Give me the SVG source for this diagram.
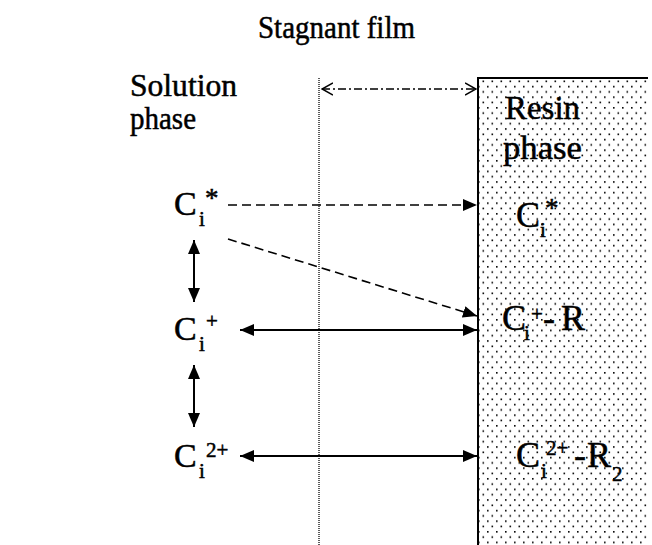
<svg xmlns="http://www.w3.org/2000/svg" width="652" height="545" viewBox="0 0 652 545" font-family="'Liberation Serif', 'DejaVu Serif', 'Times New Roman', serif">
<style>
text{font-family:'Liberation Serif','DejaVu Serif','Times New Roman',serif;fill:#000;stroke:#000;stroke-width:0.5}
.lb{font-size:31px}
.big{font-size:34px}
.rb{font-size:36px}
.sm{font-size:21px}
.solid{stroke:#000;stroke-width:2;fill:none}
.dash{stroke:#000;stroke-width:1.6;fill:none;stroke-dasharray:9 5}
</style>
<defs>
<pattern id="dots" patternUnits="userSpaceOnUse" width="9" height="10.6">
<rect width="9" height="10.6" fill="#fff"/>
<rect x="1" y="1" width="1.6" height="1.6" fill="#000"/>
<rect x="5.5" y="6.3" width="1.6" height="1.6" fill="#000"/>
</pattern>
<marker id="fh" markerUnits="userSpaceOnUse" viewBox="0 0 14 12" refX="14" refY="6" markerWidth="14" markerHeight="12" orient="auto-start-reverse">
<path d="M0,0 L14,6 L0,12 Z" fill="#000"/>
</marker>
<marker id="oh" markerUnits="userSpaceOnUse" viewBox="0 0 12 14" refX="11" refY="7" markerWidth="12" markerHeight="14" orient="auto-start-reverse">
<path d="M0,1 L11,7 L0,13" fill="none" stroke="#000" stroke-width="1.5"/>
</marker>
</defs>
<rect width="652" height="545" fill="#fff"/>
<g id="resin">
<rect x="478" y="78" width="170" height="470" fill="url(#dots)"/>
<path d="M478,545 L478,78 L648,78" class="solid"/>
</g>
<g id="film-boundary">
<line x1="319" y1="78" x2="319" y2="545" stroke="#333" stroke-width="1.6" stroke-dasharray="1 1"/>
</g>
<g id="connectors">
<line x1="322" y1="89" x2="476" y2="89" stroke="#000" stroke-width="1.4" stroke-dasharray="8 3 2 3" marker-start="url(#oh)" marker-end="url(#oh)"/>
<line x1="228" y1="205" x2="477" y2="205" class="dash" marker-end="url(#fh)"/>
<line x1="228" y1="239" x2="477" y2="316" class="dash" marker-end="url(#fh)"/>
<line x1="240" y1="330" x2="477" y2="330" class="solid" marker-start="url(#fh)" marker-end="url(#fh)"/>
<line x1="240" y1="456" x2="477" y2="456" class="solid" marker-start="url(#fh)" marker-end="url(#fh)"/>
<line x1="194" y1="240" x2="194" y2="302" class="solid" marker-start="url(#fh)" marker-end="url(#fh)"/>
<line x1="194" y1="365" x2="194" y2="427" class="solid" marker-start="url(#fh)" marker-end="url(#fh)"/>
</g>
<g id="title"><text class="lb" x="258" y="38" textLength="157" lengthAdjust="spacingAndGlyphs">Stagnant film</text></g>
<g id="solution-label">
<text class="lb" x="130" y="96" textLength="107" lengthAdjust="spacingAndGlyphs">Solution</text>
<text class="lb" x="130" y="129" textLength="66" lengthAdjust="spacingAndGlyphs">phase</text>
</g>
<g id="resin-label">
<text class="big" x="505" y="119" textLength="75" lengthAdjust="spacingAndGlyphs">Resin</text>
<text class="big" x="503" y="159" textLength="79" lengthAdjust="spacingAndGlyphs">phase</text>
</g>
<g id="sol-cstar">
<text class="big" x="174" y="215">C</text>
<text class="sm" x="199" y="226">i</text>
<text x="205" y="207" style="font-size:27px">*</text>
</g>
<g id="sol-cplus">
<text class="big" x="174" y="340">C</text>
<text class="sm" x="199" y="351">i</text>
<text class="sm" x="206" y="328">+</text>
</g>
<g id="sol-c2plus">
<text class="big" x="174" y="467">C</text>
<text class="sm" x="199" y="478">i</text>
<text class="sm" x="206" y="457">2+</text>
</g>
<g id="res-cstar">
<text class="rb" x="516" y="227">C</text>
<text class="sm" x="540" y="237">i</text>
<text x="545" y="217" style="font-size:27px">*</text>
</g>
<g id="res-cplusR">
<text class="rb" x="502" y="330">C</text>
<text class="sm" x="524" y="340">i</text>
<text class="sm" x="531" y="321">+</text>
<text class="rb" x="543" y="330">-</text>
<text class="rb" x="561" y="330">R</text>
</g>
<g id="res-c2plusR2">
<text class="rb" x="516" y="467">C</text>
<text class="sm" x="541" y="478">i</text>
<text class="sm" x="546" y="455">2+</text>
<text class="rb" x="574" y="467">-</text>
<text class="rb" x="587" y="467">R</text>
<text class="sm" x="612" y="481">2</text>
</g>
</svg>
